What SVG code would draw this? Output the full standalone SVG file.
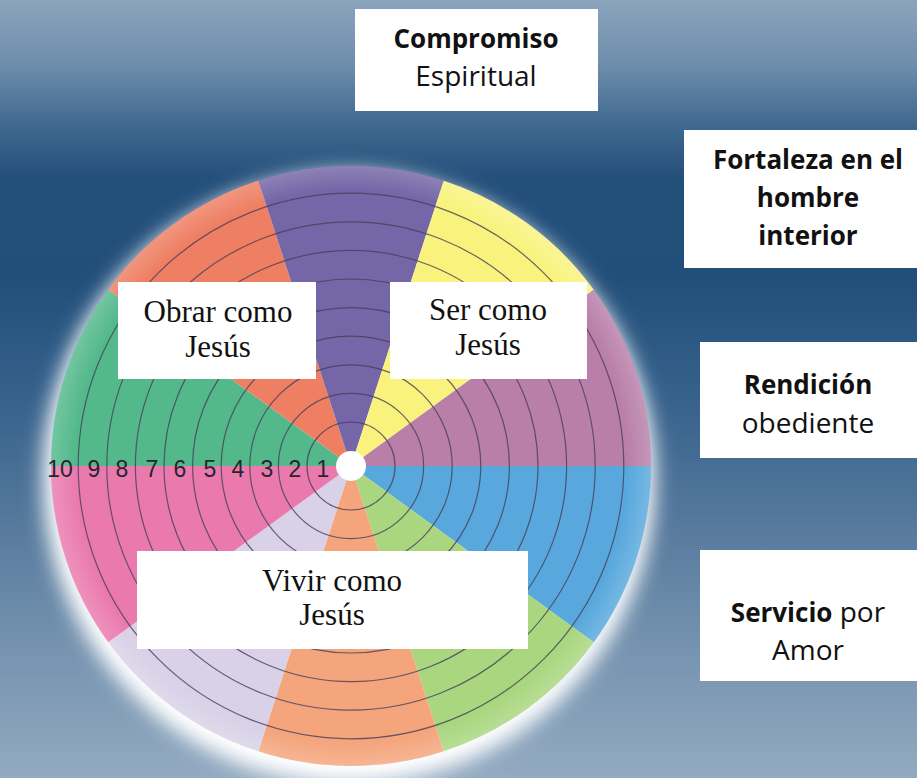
<svg xmlns="http://www.w3.org/2000/svg" width="917" height="778" viewBox="0 0 917 778">
  <defs>
    <linearGradient id="bg" x1="0" y1="0" x2="0" y2="1">
      <stop offset="0" stop-color="#8ba4bc"/>
      <stop offset="0.08" stop-color="#6f8fad"/>
      <stop offset="0.16" stop-color="#41698f"/>
      <stop offset="0.23" stop-color="#234f7b"/>
      <stop offset="0.36" stop-color="#224f7a"/>
      <stop offset="0.5" stop-color="#34608a"/>
      <stop offset="0.66" stop-color="#53779b"/>
      <stop offset="0.82" stop-color="#7391ae"/>
      <stop offset="1" stop-color="#93aac1"/>
    </linearGradient>
    <filter id="blur" x="-20%" y="-20%" width="140%" height="140%">
      <feGaussianBlur stdDeviation="10"/>
    </filter>
    <filter id="soft" x="-10%" y="-10%" width="120%" height="120%">
      <feGaussianBlur stdDeviation="0.6"/>
    </filter>
    <radialGradient id="rim" cx="351" cy="466" r="300" gradientUnits="userSpaceOnUse">
      <stop offset="0.92" stop-color="#ffffff" stop-opacity="0"/>
      <stop offset="1" stop-color="#ffffff" stop-opacity="0.18"/>
    </radialGradient>
    <style>
      .ring { fill: none; stroke: #463f58; stroke-opacity: 0.8; stroke-width: 1.2; }
      .num { font-family: "Liberation Sans", Arial, sans-serif; font-size: 23px; fill: #2a2430; text-anchor: middle; }
      .box { fill: #ffffff; }
      .serif { font-family: "Liberation Serif", "Times New Roman", serif; font-size: 31px; fill: #111111; text-anchor: middle; }
      .sans { font-family: "Open Sans", "Noto Sans", sans-serif; font-size: 28px; fill: #111111; text-anchor: middle; }
      .b { font-weight: 700; font-size: 26px; }
    </style>
  </defs>

  <rect x="0" y="0" width="917" height="778" fill="url(#bg)"/>

  <g id="wheel">
    <circle cx="349" cy="478" r="306" fill="#ffffff" filter="url(#blur)"/>
    <g id="sectors" filter="url(#soft)">
      <path id="s-blue" d="M351 466 L651 466 A300 300 0 0 1 593.7 642.3 Z" fill="#59a8dd"/>
      <path id="s-lime" d="M351 466 L593.7 642.3 A300 300 0 0 1 443.7 751.3 Z" fill="#a9d67f"/>
      <path id="s-salmon" d="M351 466 L443.7 751.3 A300 300 0 0 1 258.3 751.3 Z" fill="#f4a57b"/>
      <path id="s-lavender" d="M351 466 L258.3 751.3 A300 300 0 0 1 108.3 642.3 Z" fill="#d8d1e7"/>
      <path id="s-pink" d="M351 466 L108.3 642.3 A300 300 0 0 1 51 466 Z" fill="#ea7aae"/>
      <path id="s-green" d="M351 466 L51 466 A300 300 0 0 1 108.3 289.7 Z" fill="#52b98b"/>
      <path id="s-coral" d="M351 466 L108.3 289.7 A300 300 0 0 1 258.3 180.7 Z" fill="#ee7f63"/>
      <path id="s-purple" d="M351 466 L258.3 180.7 A300 300 0 0 1 443.7 180.7 Z" fill="#7566a7"/>
      <path id="s-yellow" d="M351 466 L443.7 180.7 A300 300 0 0 1 593.7 289.7 Z" fill="#f9f37e"/>
      <path id="s-mauve" d="M351 466 L593.7 289.7 A300 300 0 0 1 651 466 Z" fill="#b97fa9"/>
    </g>
    <g id="rings">
      <circle class="ring" cx="351" cy="466" r="44"/>
      <circle class="ring" cx="351" cy="466" r="72.6"/>
      <circle class="ring" cx="351" cy="466" r="101.2"/>
      <circle class="ring" cx="351" cy="466" r="129.8"/>
      <circle class="ring" cx="351" cy="466" r="158.4"/>
      <circle class="ring" cx="351" cy="466" r="187"/>
      <circle class="ring" cx="351" cy="466" r="215.6"/>
      <circle class="ring" cx="351" cy="466" r="244.2"/>
      <circle class="ring" cx="351" cy="466" r="272.8"/>
    </g>
    <circle cx="351" cy="466" r="300" fill="url(#rim)"/>
    <circle id="hub" cx="351" cy="466" r="15" fill="#ffffff"/>
    <g id="scale">
      <text class="num" x="60" y="477">10</text>
      <text class="num" x="94" y="477">9</text>
      <text class="num" x="122" y="477">8</text>
      <text class="num" x="152" y="477">7</text>
      <text class="num" x="180" y="477">6</text>
      <text class="num" x="210" y="477">5</text>
      <text class="num" x="238" y="477">4</text>
      <text class="num" x="267" y="477">3</text>
      <text class="num" x="295" y="477">2</text>
      <text class="num" x="323" y="477">1</text>
    </g>
  </g>

  <g id="connectors"/>

  <g id="obrar">
    <rect class="box" x="118" y="282" width="198" height="97"/>
    <text class="serif" x="218" y="322">Obrar como</text>
    <text class="serif" x="218" y="357">Jesús</text>
  </g>

  <g id="ser">
    <rect class="box" x="390" y="282" width="197" height="97"/>
    <text class="serif" x="488" y="320">Ser como</text>
    <text class="serif" x="488" y="355">Jesús</text>
  </g>

  <g id="vivir">
    <rect class="box" x="137" y="551" width="391" height="98"/>
    <text class="serif" x="332" y="591">Vivir como</text>
    <text class="serif" x="332" y="625">Jesús</text>
  </g>

  <g id="compromiso">
    <rect class="box" x="355" y="9" width="243" height="102"/>
    <text class="sans b" x="476" y="48">Compromiso</text>
    <text class="sans" x="476" y="86">Espiritual</text>
  </g>

  <g id="fortaleza">
    <rect class="box" x="684" y="130" width="240" height="138"/>
    <text class="sans b" x="808" y="169">Fortaleza en el</text>
    <text class="sans b" x="808" y="207">hombre</text>
    <text class="sans b" x="808" y="245">interior</text>
  </g>

  <g id="rendicion">
    <rect class="box" x="700" y="342" width="217" height="116"/>
    <text class="sans b" x="808" y="394">Rendición</text>
    <text class="sans" x="808" y="433">obediente</text>
  </g>

  <g id="servicio">
    <rect class="box" x="700" y="550" width="217" height="131"/>
    <text class="sans" x="808" y="622"><tspan class="b">Servicio</tspan> por</text>
    <text class="sans" x="808" y="660">Amor</text>
  </g>
</svg>
